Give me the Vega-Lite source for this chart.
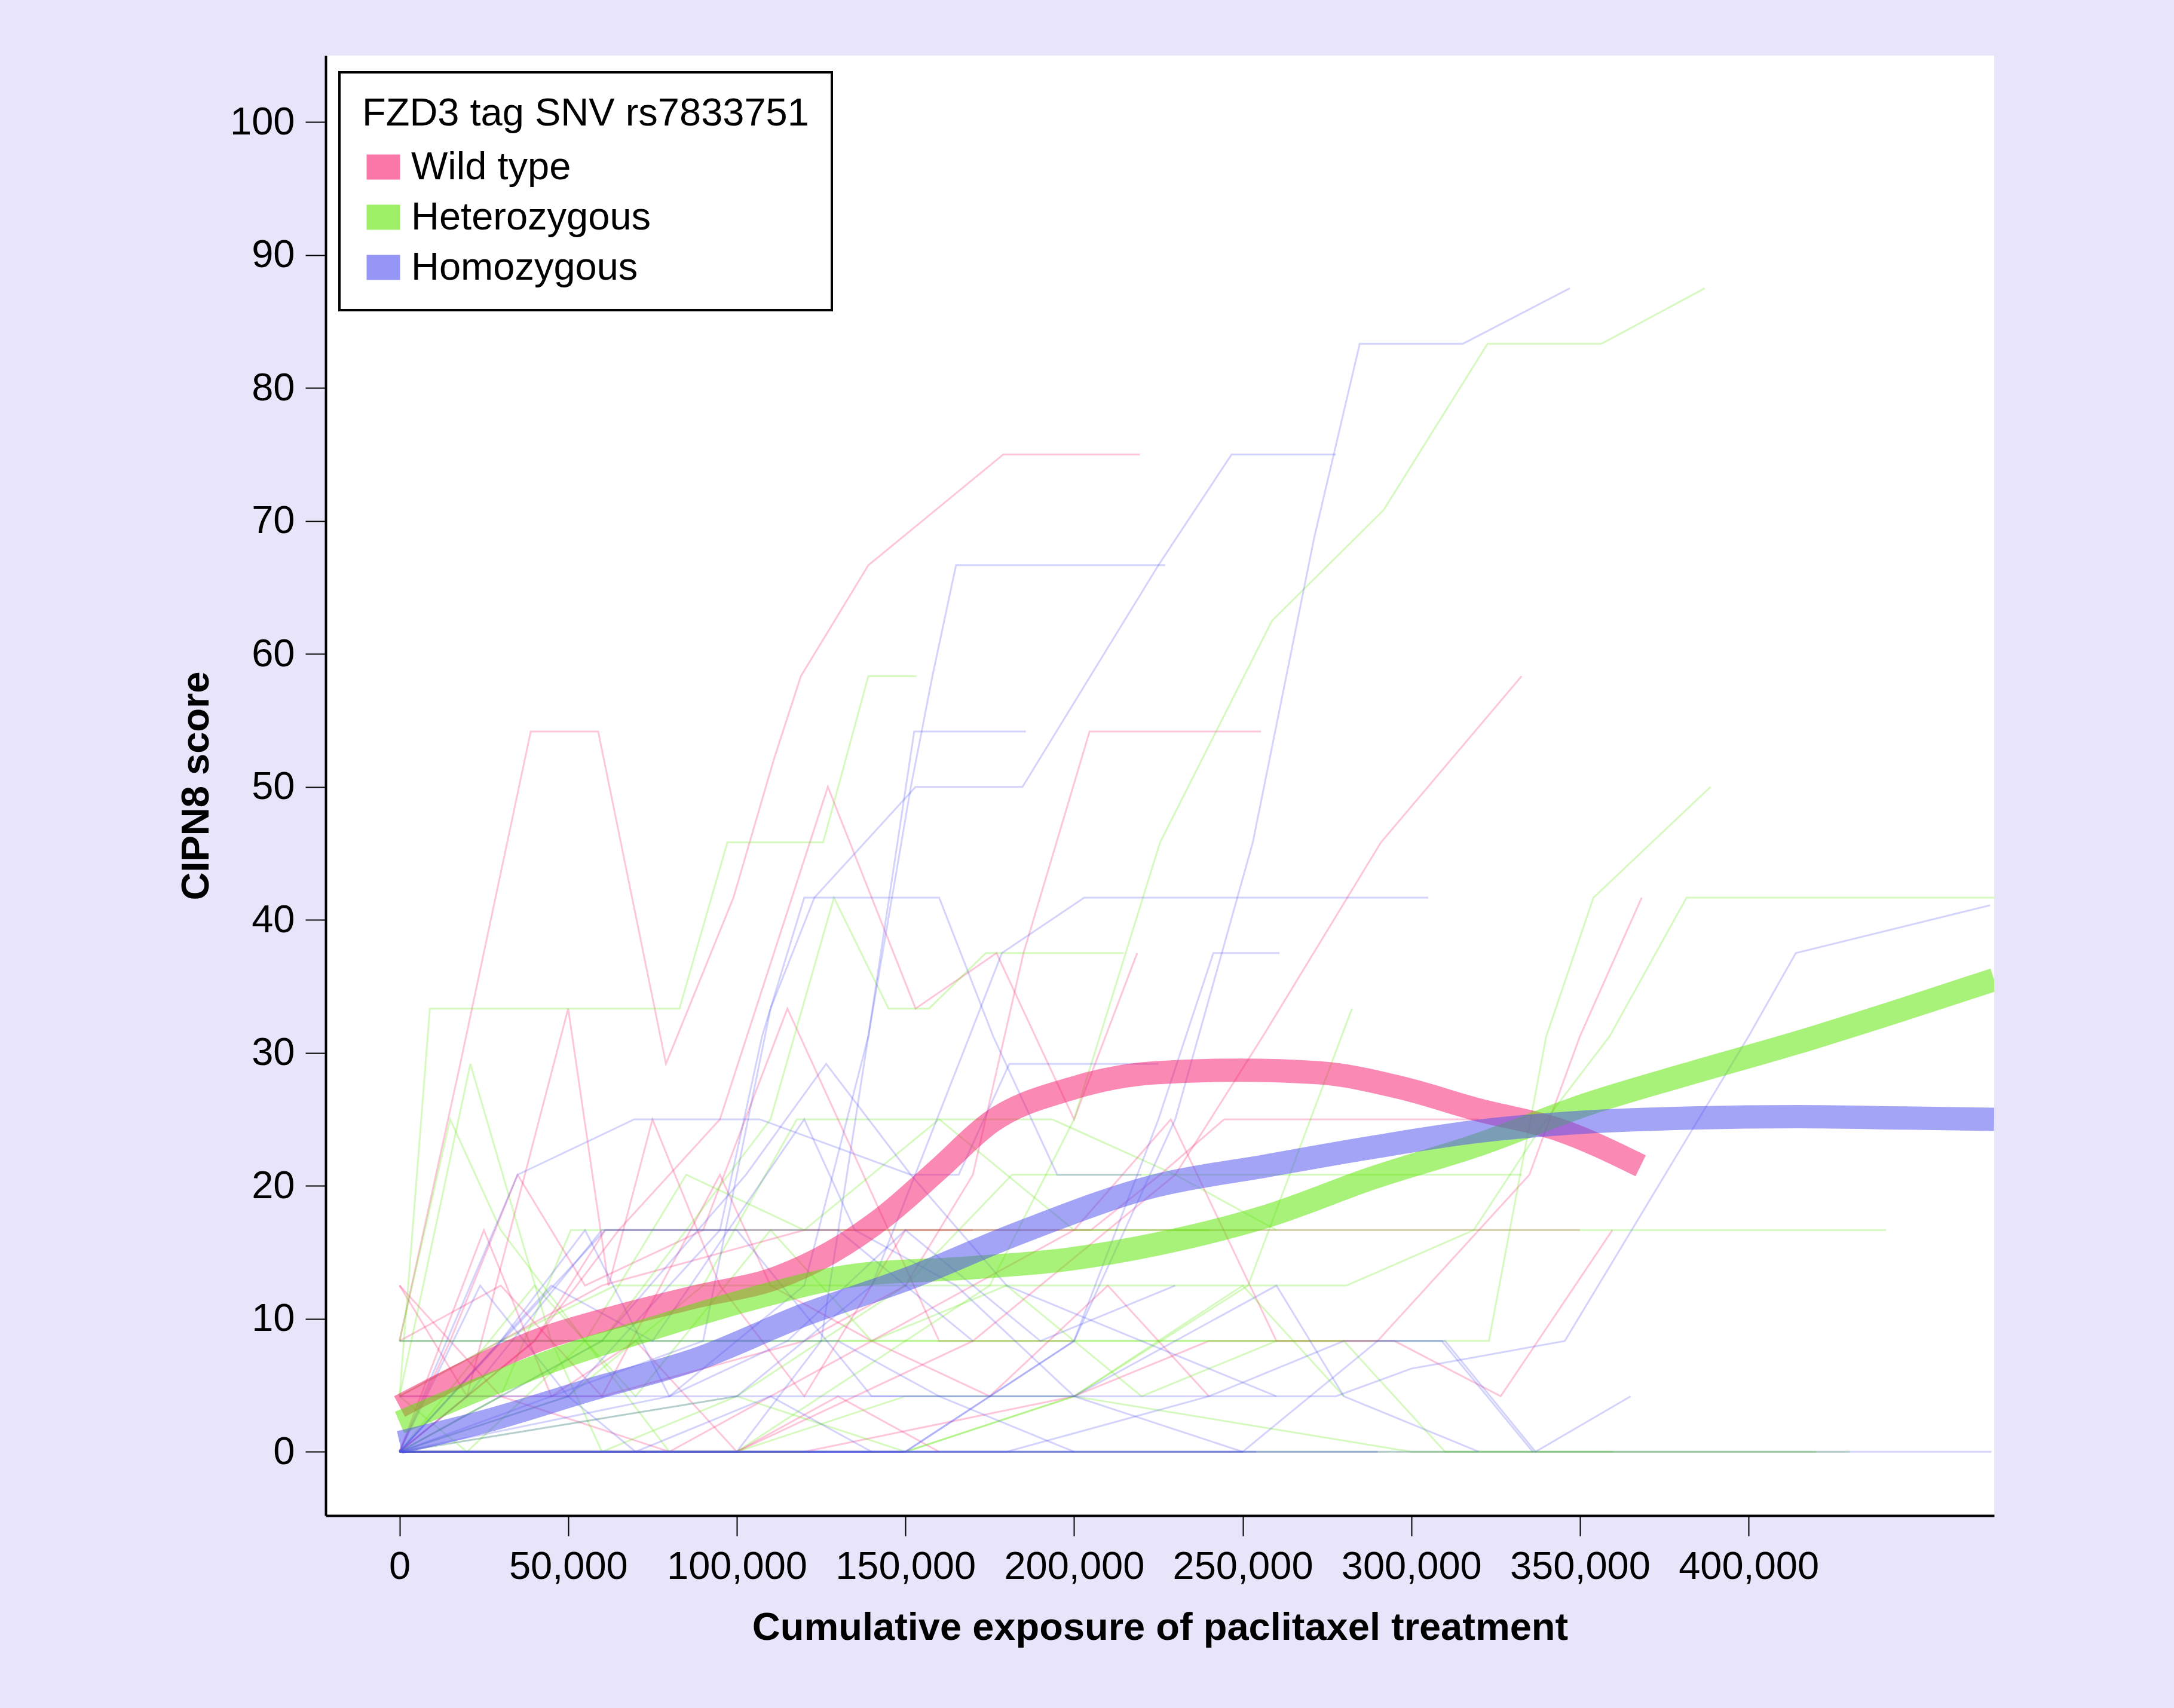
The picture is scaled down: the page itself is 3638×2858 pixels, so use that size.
{
  "$schema": "https://vega.github.io/schema/vega-lite/v6.json",
  "width": 2792,
  "height": 2443,
  "autosize": {"type": "none"},
  "padding": {"left": 545, "top": 93, "right": 301, "bottom": 322},
  "background": "#E8E4FA",
  "datasets": {
    "thin": [
      {"id":"W1","g":"Wild type","x":0,"y":8.33},{"id":"W1","g":"Wild type","x":18000,"y":29.17},{"id":"W1","g":"Wild type","x":38900,"y":54.17},{"id":"W1","g":"Wild type","x":58900,"y":54.17},{"id":"W1","g":"Wild type","x":79000,"y":29.17},{"id":"W1","g":"Wild type","x":99000,"y":41.67},{"id":"W1","g":"Wild type","x":111000,"y":52.08},{"id":"W1","g":"Wild type","x":119000,"y":58.33},{"id":"W1","g":"Wild type","x":139000,"y":66.67},{"id":"W1","g":"Wild type","x":179000,"y":75},{"id":"W1","g":"Wild type","x":219500,"y":75},
      {"id":"W2","g":"Wild type","x":0,"y":0},{"id":"W2","g":"Wild type","x":40000,"y":8.33},{"id":"W2","g":"Wild type","x":65000,"y":16.67},{"id":"W2","g":"Wild type","x":95000,"y":25},{"id":"W2","g":"Wild type","x":127000,"y":50},{"id":"W2","g":"Wild type","x":153000,"y":33.33},{"id":"W2","g":"Wild type","x":177000,"y":37.5},{"id":"W2","g":"Wild type","x":200000,"y":25},{"id":"W2","g":"Wild type","x":218700,"y":37.5},
      {"id":"W3","g":"Wild type","x":0,"y":4.17},{"id":"W3","g":"Wild type","x":60000,"y":4.17},{"id":"W3","g":"Wild type","x":120000,"y":8.33},{"id":"W3","g":"Wild type","x":150000,"y":12.5},{"id":"W3","g":"Wild type","x":170000,"y":20.83},{"id":"W3","g":"Wild type","x":185000,"y":37.5},{"id":"W3","g":"Wild type","x":204600,"y":54.17},{"id":"W3","g":"Wild type","x":255400,"y":54.17},
      {"id":"W4","g":"Wild type","x":0,"y":12.5},{"id":"W4","g":"Wild type","x":30000,"y":4.17},{"id":"W4","g":"Wild type","x":80000,"y":0},{"id":"W4","g":"Wild type","x":140000,"y":8.33},{"id":"W4","g":"Wild type","x":200000,"y":16.67},{"id":"W4","g":"Wild type","x":228700,"y":25},{"id":"W4","g":"Wild type","x":260000,"y":8.33},{"id":"W4","g":"Wild type","x":295000,"y":8.33},{"id":"W4","g":"Wild type","x":326500,"y":4.17},{"id":"W4","g":"Wild type","x":359600,"y":16.67},
      {"id":"W5","g":"Wild type","x":0,"y":0},{"id":"W5","g":"Wild type","x":120000,"y":0},{"id":"W5","g":"Wild type","x":200000,"y":4.17},{"id":"W5","g":"Wild type","x":240000,"y":8.33},{"id":"W5","g":"Wild type","x":290000,"y":8.33},{"id":"W5","g":"Wild type","x":335000,"y":20.83},{"id":"W5","g":"Wild type","x":350000,"y":31.25},{"id":"W5","g":"Wild type","x":368300,"y":41.67},
      {"id":"W6","g":"Wild type","x":0,"y":0},{"id":"W6","g":"Wild type","x":100000,"y":0},{"id":"W6","g":"Wild type","x":170000,"y":8.33},{"id":"W6","g":"Wild type","x":230000,"y":20.83},{"id":"W6","g":"Wild type","x":256000,"y":31.25},{"id":"W6","g":"Wild type","x":291000,"y":45.83},{"id":"W6","g":"Wild type","x":332700,"y":58.33},
      {"id":"W7","g":"Wild type","x":0,"y":4.17},{"id":"W7","g":"Wild type","x":60000,"y":12.5},{"id":"W7","g":"Wild type","x":120000,"y":16.67},{"id":"W7","g":"Wild type","x":205000,"y":16.67},{"id":"W7","g":"Wild type","x":225500,"y":20.83},{"id":"W7","g":"Wild type","x":244500,"y":25},{"id":"W7","g":"Wild type","x":320000,"y":25},
      {"id":"W8","g":"Wild type","x":0,"y":12.5},{"id":"W8","g":"Wild type","x":20000,"y":4.17},{"id":"W8","g":"Wild type","x":50000,"y":33.33},{"id":"W8","g":"Wild type","x":62000,"y":12.5},{"id":"W8","g":"Wild type","x":75000,"y":25},{"id":"W8","g":"Wild type","x":95000,"y":12.5},{"id":"W8","g":"Wild type","x":120000,"y":4.17},{"id":"W8","g":"Wild type","x":150000,"y":16.67},{"id":"W8","g":"Wild type","x":170000,"y":16.67},
      {"id":"W9","g":"Wild type","x":0,"y":0},{"id":"W9","g":"Wild type","x":40000,"y":8.33},{"id":"W9","g":"Wild type","x":61000,"y":16.67},{"id":"W9","g":"Wild type","x":350000,"y":16.67},
      {"id":"W12","g":"Wild type","x":0,"y":0},{"id":"W12","g":"Wild type","x":25000,"y":16.67},{"id":"W12","g":"Wild type","x":45000,"y":4.17},{"id":"W12","g":"Wild type","x":70000,"y":8.33},{"id":"W12","g":"Wild type","x":100000,"y":0},{"id":"W12","g":"Wild type","x":130000,"y":4.17},{"id":"W12","g":"Wild type","x":160000,"y":0},
      {"id":"W13","g":"Wild type","x":0,"y":8.33},{"id":"W13","g":"Wild type","x":30000,"y":12.5},{"id":"W13","g":"Wild type","x":60000,"y":4.17},{"id":"W13","g":"Wild type","x":95000,"y":20.83},{"id":"W13","g":"Wild type","x":110000,"y":12.5},{"id":"W13","g":"Wild type","x":140000,"y":8.33},{"id":"W13","g":"Wild type","x":175000,"y":4.17},{"id":"W13","g":"Wild type","x":210000,"y":12.5},{"id":"W13","g":"Wild type","x":240000,"y":4.17},
      {"id":"W14","g":"Wild type","x":0,"y":0},{"id":"W14","g":"Wild type","x":15000,"y":8.33},{"id":"W14","g":"Wild type","x":35000,"y":20.83},{"id":"W14","g":"Wild type","x":55000,"y":12.5},{"id":"W14","g":"Wild type","x":90000,"y":16.67},{"id":"W14","g":"Wild type","x":115000,"y":33.33},{"id":"W14","g":"Wild type","x":130000,"y":25},{"id":"W14","g":"Wild type","x":160000,"y":8.33},{"id":"W14","g":"Wild type","x":200000,"y":8.33},
      {"id":"H1","g":"Heterozygous","x":0,"y":0},{"id":"H1","g":"Heterozygous","x":100000,"y":0},{"id":"H1","g":"Heterozygous","x":150000,"y":8.33},{"id":"H1","g":"Heterozygous","x":175000,"y":12.5},{"id":"H1","g":"Heterozygous","x":200000,"y":25},{"id":"H1","g":"Heterozygous","x":225500,"y":45.83},{"id":"H1","g":"Heterozygous","x":258700,"y":62.5},{"id":"H1","g":"Heterozygous","x":291800,"y":70.83},{"id":"H1","g":"Heterozygous","x":322600,"y":83.33},{"id":"H1","g":"Heterozygous","x":356400,"y":83.33},{"id":"H1","g":"Heterozygous","x":387000,"y":87.5},
      {"id":"H2","g":"Heterozygous","x":0,"y":8.33},{"id":"H2","g":"Heterozygous","x":323000,"y":8.33},{"id":"H2","g":"Heterozygous","x":340000,"y":31.25},{"id":"H2","g":"Heterozygous","x":354000,"y":41.67},{"id":"H2","g":"Heterozygous","x":388700,"y":50},
      {"id":"H3","g":"Heterozygous","x":0,"y":4.17},{"id":"H3","g":"Heterozygous","x":30000,"y":8.33},{"id":"H3","g":"Heterozygous","x":64000,"y":12.5},{"id":"H3","g":"Heterozygous","x":280800,"y":12.5},{"id":"H3","g":"Heterozygous","x":318500,"y":16.67},{"id":"H3","g":"Heterozygous","x":340000,"y":25},{"id":"H3","g":"Heterozygous","x":358800,"y":31.25},{"id":"H3","g":"Heterozygous","x":381600,"y":41.67},{"id":"H3","g":"Heterozygous","x":480000,"y":41.67},
      {"id":"H4","g":"Heterozygous","x":0,"y":4.17},{"id":"H4","g":"Heterozygous","x":9000,"y":33.33},{"id":"H4","g":"Heterozygous","x":83000,"y":33.33},{"id":"H4","g":"Heterozygous","x":97200,"y":45.83},{"id":"H4","g":"Heterozygous","x":125600,"y":45.83},{"id":"H4","g":"Heterozygous","x":139000,"y":58.33},{"id":"H4","g":"Heterozygous","x":153300,"y":58.33},
      {"id":"H5","g":"Heterozygous","x":0,"y":0},{"id":"H5","g":"Heterozygous","x":60000,"y":8.33},{"id":"H5","g":"Heterozygous","x":110000,"y":25},{"id":"H5","g":"Heterozygous","x":128800,"y":41.67},{"id":"H5","g":"Heterozygous","x":145000,"y":33.33},{"id":"H5","g":"Heterozygous","x":157000,"y":33.33},{"id":"H5","g":"Heterozygous","x":173800,"y":37.5},{"id":"H5","g":"Heterozygous","x":214700,"y":37.5},
      {"id":"H6","g":"Heterozygous","x":0,"y":4.17},{"id":"H6","g":"Heterozygous","x":21000,"y":29.17},{"id":"H6","g":"Heterozygous","x":45000,"y":8.33},{"id":"H6","g":"Heterozygous","x":60000,"y":0},{"id":"H6","g":"Heterozygous","x":100000,"y":0},{"id":"H6","g":"Heterozygous","x":150000,"y":4.17},{"id":"H6","g":"Heterozygous","x":200000,"y":4.17},{"id":"H6","g":"Heterozygous","x":250000,"y":12.5},{"id":"H6","g":"Heterozygous","x":280000,"y":4.17},
      {"id":"H7","g":"Heterozygous","x":0,"y":0},{"id":"H7","g":"Heterozygous","x":50000,"y":4.17},{"id":"H7","g":"Heterozygous","x":90000,"y":12.5},{"id":"H7","g":"Heterozygous","x":117800,"y":25},{"id":"H7","g":"Heterozygous","x":193500,"y":25},{"id":"H7","g":"Heterozygous","x":230000,"y":20.83},{"id":"H7","g":"Heterozygous","x":260000,"y":16.67},
      {"id":"H8","g":"Heterozygous","x":0,"y":0},{"id":"H8","g":"Heterozygous","x":100000,"y":4.17},{"id":"H8","g":"Heterozygous","x":150000,"y":12.5},{"id":"H8","g":"Heterozygous","x":181600,"y":20.83},{"id":"H8","g":"Heterozygous","x":332700,"y":20.83},
      {"id":"H9","g":"Heterozygous","x":0,"y":0},{"id":"H9","g":"Heterozygous","x":30000,"y":4.17},{"id":"H9","g":"Heterozygous","x":50800,"y":16.67},{"id":"H9","g":"Heterozygous","x":440800,"y":16.67},
      {"id":"H10","g":"Heterozygous","x":0,"y":0},{"id":"H10","g":"Heterozygous","x":430000,"y":0},
      {"id":"H11","g":"Heterozygous","x":0,"y":8.33},{"id":"H11","g":"Heterozygous","x":280000,"y":8.33},{"id":"H11","g":"Heterozygous","x":310000,"y":0},{"id":"H11","g":"Heterozygous","x":420000,"y":0},
      {"id":"H12","g":"Heterozygous","x":0,"y":0},{"id":"H12","g":"Heterozygous","x":150000,"y":0},{"id":"H12","g":"Heterozygous","x":200000,"y":4.17},{"id":"H12","g":"Heterozygous","x":251600,"y":12.5},{"id":"H12","g":"Heterozygous","x":282400,"y":33.33},
      {"id":"H15","g":"Heterozygous","x":0,"y":0},{"id":"H15","g":"Heterozygous","x":40000,"y":12.5},{"id":"H15","g":"Heterozygous","x":70000,"y":4.17},{"id":"H15","g":"Heterozygous","x":110000,"y":16.67},{"id":"H15","g":"Heterozygous","x":140000,"y":8.33},{"id":"H15","g":"Heterozygous","x":180000,"y":12.5},{"id":"H15","g":"Heterozygous","x":220000,"y":4.17},{"id":"H15","g":"Heterozygous","x":260000,"y":8.33},
      {"id":"H16","g":"Heterozygous","x":0,"y":4.17},{"id":"H16","g":"Heterozygous","x":20000,"y":0},{"id":"H16","g":"Heterozygous","x":55000,"y":8.33},{"id":"H16","g":"Heterozygous","x":85000,"y":20.83},{"id":"H16","g":"Heterozygous","x":120000,"y":16.67},{"id":"H16","g":"Heterozygous","x":160000,"y":25},{"id":"H16","g":"Heterozygous","x":200000,"y":16.67},{"id":"H16","g":"Heterozygous","x":240000,"y":16.67},
      {"id":"H17","g":"Heterozygous","x":0,"y":0},{"id":"H17","g":"Heterozygous","x":60000,"y":0},{"id":"H17","g":"Heterozygous","x":100000,"y":4.17},{"id":"H17","g":"Heterozygous","x":150000,"y":0},{"id":"H17","g":"Heterozygous","x":200000,"y":4.17},{"id":"H17","g":"Heterozygous","x":300000,"y":0},{"id":"H17","g":"Heterozygous","x":360000,"y":0},
      {"id":"H18","g":"Heterozygous","x":0,"y":8.33},{"id":"H18","g":"Heterozygous","x":15000,"y":25},{"id":"H18","g":"Heterozygous","x":30000,"y":16.67},{"id":"H18","g":"Heterozygous","x":55000,"y":8.33},{"id":"H18","g":"Heterozygous","x":80000,"y":0},{"id":"H18","g":"Heterozygous","x":120000,"y":0},
      {"id":"M1","g":"Homozygous","x":0,"y":0},{"id":"M1","g":"Homozygous","x":80000,"y":4.17},{"id":"M1","g":"Homozygous","x":120000,"y":12.5},{"id":"M1","g":"Homozygous","x":139000,"y":31.25},{"id":"M1","g":"Homozygous","x":151600,"y":50},{"id":"M1","g":"Homozygous","x":158000,"y":58.33},{"id":"M1","g":"Homozygous","x":165000,"y":66.67},{"id":"M1","g":"Homozygous","x":227000,"y":66.67},
      {"id":"M2","g":"Homozygous","x":0,"y":0},{"id":"M2","g":"Homozygous","x":150000,"y":0},{"id":"M2","g":"Homozygous","x":200000,"y":8.33},{"id":"M2","g":"Homozygous","x":230000,"y":25},{"id":"M2","g":"Homozygous","x":253000,"y":45.83},{"id":"M2","g":"Homozygous","x":271200,"y":68.75},{"id":"M2","g":"Homozygous","x":284700,"y":83.33},{"id":"M2","g":"Homozygous","x":315300,"y":83.33},{"id":"M2","g":"Homozygous","x":347000,"y":87.5},
      {"id":"M3","g":"Homozygous","x":0,"y":0},{"id":"M3","g":"Homozygous","x":50000,"y":4.17},{"id":"M3","g":"Homozygous","x":95000,"y":16.67},{"id":"M3","g":"Homozygous","x":107500,"y":31.25},{"id":"M3","g":"Homozygous","x":120000,"y":41.67},{"id":"M3","g":"Homozygous","x":160000,"y":41.67},{"id":"M3","g":"Homozygous","x":176000,"y":31.25},{"id":"M3","g":"Homozygous","x":195000,"y":20.83},{"id":"M3","g":"Homozygous","x":220000,"y":20.83},
      {"id":"M4","g":"Homozygous","x":0,"y":0},{"id":"M4","g":"Homozygous","x":90000,"y":8.33},{"id":"M4","g":"Homozygous","x":110000,"y":33.33},{"id":"M4","g":"Homozygous","x":123000,"y":41.67},{"id":"M4","g":"Homozygous","x":153000,"y":50},{"id":"M4","g":"Homozygous","x":184700,"y":50},{"id":"M4","g":"Homozygous","x":225000,"y":66.67},{"id":"M4","g":"Homozygous","x":246700,"y":75},{"id":"M4","g":"Homozygous","x":277600,"y":75},
      {"id":"M5","g":"Homozygous","x":0,"y":0},{"id":"M5","g":"Homozygous","x":100000,"y":0},{"id":"M5","g":"Homozygous","x":125000,"y":8.33},{"id":"M5","g":"Homozygous","x":139000,"y":31.25},{"id":"M5","g":"Homozygous","x":152600,"y":54.17},{"id":"M5","g":"Homozygous","x":185700,"y":54.17},
      {"id":"M6","g":"Homozygous","x":0,"y":4.17},{"id":"M6","g":"Homozygous","x":277600,"y":4.17},{"id":"M6","g":"Homozygous","x":300000,"y":6.25},{"id":"M6","g":"Homozygous","x":345500,"y":8.33},{"id":"M6","g":"Homozygous","x":400000,"y":31.25},{"id":"M6","g":"Homozygous","x":414000,"y":37.5},{"id":"M6","g":"Homozygous","x":471600,"y":41.1},
      {"id":"M7","g":"Homozygous","x":0,"y":0},{"id":"M7","g":"Homozygous","x":250000,"y":0},{"id":"M7","g":"Homozygous","x":290000,"y":8.33},{"id":"M7","g":"Homozygous","x":310000,"y":8.33},{"id":"M7","g":"Homozygous","x":336800,"y":0},{"id":"M7","g":"Homozygous","x":365000,"y":4.17},
      {"id":"M8","g":"Homozygous","x":0,"y":0},{"id":"M8","g":"Homozygous","x":35000,"y":20.83},{"id":"M8","g":"Homozygous","x":69600,"y":25},{"id":"M8","g":"Homozygous","x":106800,"y":25},{"id":"M8","g":"Homozygous","x":151600,"y":20.83},{"id":"M8","g":"Homozygous","x":165800,"y":20.83},{"id":"M8","g":"Homozygous","x":180800,"y":29.17},{"id":"M8","g":"Homozygous","x":225000,"y":29.17},
      {"id":"M9","g":"Homozygous","x":0,"y":0},{"id":"M9","g":"Homozygous","x":100000,"y":4.17},{"id":"M9","g":"Homozygous","x":140000,"y":12.5},{"id":"M9","g":"Homozygous","x":169000,"y":31.25},{"id":"M9","g":"Homozygous","x":178600,"y":37.5},{"id":"M9","g":"Homozygous","x":203000,"y":41.67},{"id":"M9","g":"Homozygous","x":305000,"y":41.67},
      {"id":"M11","g":"Homozygous","x":0,"y":0},{"id":"M11","g":"Homozygous","x":150000,"y":0},{"id":"M11","g":"Homozygous","x":200000,"y":8.33},{"id":"M11","g":"Homozygous","x":225000,"y":25},{"id":"M11","g":"Homozygous","x":241300,"y":37.5},{"id":"M11","g":"Homozygous","x":260900,"y":37.5},
      {"id":"M12","g":"Homozygous","x":0,"y":0},{"id":"M12","g":"Homozygous","x":60000,"y":8.33},{"id":"M12","g":"Homozygous","x":102700,"y":20.83},{"id":"M12","g":"Homozygous","x":126500,"y":29.17},{"id":"M12","g":"Homozygous","x":151600,"y":20.83},{"id":"M12","g":"Homozygous","x":180000,"y":12.5},{"id":"M12","g":"Homozygous","x":220000,"y":8.33},{"id":"M12","g":"Homozygous","x":260000,"y":4.17},
      {"id":"M14","g":"Homozygous","x":0,"y":0},{"id":"M14","g":"Homozygous","x":23900,"y":12.5},{"id":"M14","g":"Homozygous","x":50000,"y":4.17},{"id":"M14","g":"Homozygous","x":70000,"y":0},{"id":"M14","g":"Homozygous","x":110000,"y":4.17},{"id":"M14","g":"Homozygous","x":140000,"y":0},
      {"id":"M15","g":"Homozygous","x":0,"y":0},{"id":"M15","g":"Homozygous","x":472000,"y":0},
      {"id":"M18","g":"Homozygous","x":0,"y":0},{"id":"M18","g":"Homozygous","x":30000,"y":8.33},{"id":"M18","g":"Homozygous","x":55000,"y":16.67},{"id":"M18","g":"Homozygous","x":80000,"y":4.17},{"id":"M18","g":"Homozygous","x":115000,"y":8.33},{"id":"M18","g":"Homozygous","x":150000,"y":16.67},{"id":"M18","g":"Homozygous","x":190000,"y":8.33},{"id":"M18","g":"Homozygous","x":230000,"y":12.5},
      {"id":"M19","g":"Homozygous","x":0,"y":0},{"id":"M19","g":"Homozygous","x":45000,"y":12.5},{"id":"M19","g":"Homozygous","x":75000,"y":8.33},{"id":"M19","g":"Homozygous","x":120000,"y":25},{"id":"M19","g":"Homozygous","x":135000,"y":16.67},{"id":"M19","g":"Homozygous","x":165000,"y":12.5},{"id":"M19","g":"Homozygous","x":200000,"y":4.17},{"id":"M19","g":"Homozygous","x":250000,"y":0},
      {"id":"M20","g":"Homozygous","x":0,"y":0},{"id":"M20","g":"Homozygous","x":290000,"y":0},
      {"id":"M21","g":"Homozygous","x":0,"y":0},{"id":"M21","g":"Homozygous","x":254000,"y":0},
      {"id":"M22","g":"Homozygous","x":0,"y":8.33},{"id":"M22","g":"Homozygous","x":130000,"y":8.33},{"id":"M22","g":"Homozygous","x":160000,"y":4.17},{"id":"M22","g":"Homozygous","x":200000,"y":0},
      {"id":"M23","g":"Homozygous","x":0,"y":0},{"id":"M23","g":"Homozygous","x":20000,"y":4.17},{"id":"M23","g":"Homozygous","x":60000,"y":16.67},{"id":"M23","g":"Homozygous","x":100000,"y":16.67},{"id":"M23","g":"Homozygous","x":140000,"y":4.17},{"id":"M23","g":"Homozygous","x":200000,"y":4.17},{"id":"M23","g":"Homozygous","x":260000,"y":12.5},{"id":"M23","g":"Homozygous","x":280000,"y":4.17},{"id":"M23","g":"Homozygous","x":320000,"y":0},
      {"id":"M24","g":"Homozygous","x":0,"y":0},{"id":"M24","g":"Homozygous","x":61000,"y":16.67},{"id":"M24","g":"Homozygous","x":130000,"y":16.67},{"id":"M24","g":"Homozygous","x":170000,"y":8.33},
      {"id":"M25","g":"Homozygous","x":0,"y":0},{"id":"M25","g":"Homozygous","x":180000,"y":0},{"id":"M25","g":"Homozygous","x":240000,"y":4.17},{"id":"M25","g":"Homozygous","x":280000,"y":8.33},{"id":"M25","g":"Homozygous","x":309000,"y":8.33},{"id":"M25","g":"Homozygous","x":336000,"y":0}
    ],
    "smooth": [
      {"g":"Wild type","x":0,"y":3.4},{"g":"Wild type","x":20000,"y":6},{"g":"Wild type","x":41200,"y":8.4},{"g":"Wild type","x":65000,"y":10.2},{"g":"Wild type","x":88600,"y":11.7},{"g":"Wild type","x":112000,"y":13.1},{"g":"Wild type","x":128000,"y":15},{"g":"Wild type","x":143800,"y":17.7},{"g":"Wild type","x":159600,"y":21.2},{"g":"Wild type","x":175400,"y":24.8},{"g":"Wild type","x":199000,"y":27.3},{"g":"Wild type","x":224000,"y":28.5},{"g":"Wild type","x":249000,"y":28.7},{"g":"Wild type","x":272800,"y":28.5},{"g":"Wild type","x":296500,"y":27.4},{"g":"Wild type","x":320000,"y":25.7},{"g":"Wild type","x":343900,"y":24.2},{"g":"Wild type","x":368000,"y":21.5},
      {"g":"Heterozygous","x":0,"y":2.2},{"g":"Heterozygous","x":25500,"y":4.9},{"g":"Heterozygous","x":49200,"y":7.2},{"g":"Heterozygous","x":72800,"y":9.1},{"g":"Heterozygous","x":104300,"y":11.5},{"g":"Heterozygous","x":135800,"y":13.3},{"g":"Heterozygous","x":167400,"y":13.8},{"g":"Heterozygous","x":199000,"y":14.5},{"g":"Heterozygous","x":224200,"y":15.6},{"g":"Heterozygous","x":257000,"y":17.7},{"g":"Heterozygous","x":288600,"y":20.6},{"g":"Heterozygous","x":320000,"y":23.1},{"g":"Heterozygous","x":351700,"y":26.1},{"g":"Heterozygous","x":383200,"y":28.5},{"g":"Heterozygous","x":414800,"y":30.8},{"g":"Heterozygous","x":445000,"y":33.2},{"g":"Heterozygous","x":472800,"y":35.5},
      {"g":"Homozygous","x":0,"y":0.7},{"g":"Homozygous","x":25500,"y":2.3},{"g":"Homozygous","x":57000,"y":4.7},{"g":"Homozygous","x":88600,"y":7},{"g":"Homozygous","x":120000,"y":10.3},{"g":"Homozygous","x":151600,"y":13.1},{"g":"Homozygous","x":183200,"y":16.4},{"g":"Homozygous","x":224200,"y":20},{"g":"Homozygous","x":257000,"y":21.5},{"g":"Homozygous","x":288600,"y":22.9},{"g":"Homozygous","x":320000,"y":24.1},{"g":"Homozygous","x":351700,"y":24.8},{"g":"Homozygous","x":383200,"y":25.1},{"g":"Homozygous","x":414800,"y":25.2},{"g":"Homozygous","x":446300,"y":25.1},{"g":"Homozygous","x":472800,"y":25}
    ]
  },
  "encoding": {
    "x": {"field": "x", "type": "quantitative",
      "scale": {"domain": [-21900, 472800], "nice": false, "zero": false},
      "axis": {"values": [0, 50000, 100000, 150000, 200000, 250000, 300000, 350000, 400000], "format": ",d", "title": "Cumulative exposure of paclitaxel treatment", "labelPadding": 20, "titlePadding": 38}},
    "y": {"field": "y", "type": "quantitative",
      "scale": {"domain": [-4.8, 105], "nice": false, "zero": false},
      "axis": {"values": [0, 10, 20, 30, 40, 50, 60, 70, 80, 90, 100], "title": "CIPN8 score", "labelPadding": 18, "titlePadding": 22}},
    "color": {"field": "g", "type": "nominal",
      "scale": {"domain": ["Wild type", "Heterozygous", "Homozygous"], "range": ["#F61C6E", "#5BE600", "#5050F0"]},
      "legend": {"title": "FZD3 tag SNV rs7833751", "orient": "none", "legendX": 23, "legendY": 28,
        "encode": {"symbols": {"update": {"fill": {"scale": "color", "field": "value"}, "strokeWidth": {"value": 0}}}}}}
  },
  "layer": [
    {"data": {"name": "thin"},
     "mark": {"type": "line", "strokeWidth": 3, "opacity": 0.25, "clip": true},
     "encoding": {"detail": {"field": "id", "type": "nominal"}}},
    {"data": {"name": "smooth"},
     "mark": {"type": "line", "strokeWidth": 39, "opacity": 0.52, "interpolate": "monotone", "clip": true},
     "encoding": {}}
  ],
  "config": {
    "view": {"fill": "white", "stroke": null},
    "axis": {"grid": false, "domainColor": "black", "domainWidth": 4, "tickColor": "black", "tickWidth": 2, "tickSize": 34,
      "labelFont": "Liberation Sans", "labelFontSize": 65, "labelColor": "black", "labelLimit": 1000,
      "titleFont": "Liberation Sans", "titleFontSize": 65, "titleFontWeight": "bold", "titleColor": "black"},
    "legend": {"fillColor": "white", "strokeColor": "black", "strokeWidth": 4, "padding": 38,
      "titleFont": "Liberation Sans", "titleFontSize": 65, "titleFontWeight": "normal", "titleColor": "black", "titlePadding": 23, "titleLimit": 2000,
      "labelFont": "Liberation Sans", "labelFontSize": 65, "labelColor": "black", "labelLimit": 1000, "labelOffset": 14,
      "symbolType": "M-1,-0.75H1V0.75H-1Z", "symbolSize": 3136, "symbolStrokeWidth": 0, "symbolOpacity": 0.6, "symbolOffset": 3, "rowPadding": 18}
  }
}
